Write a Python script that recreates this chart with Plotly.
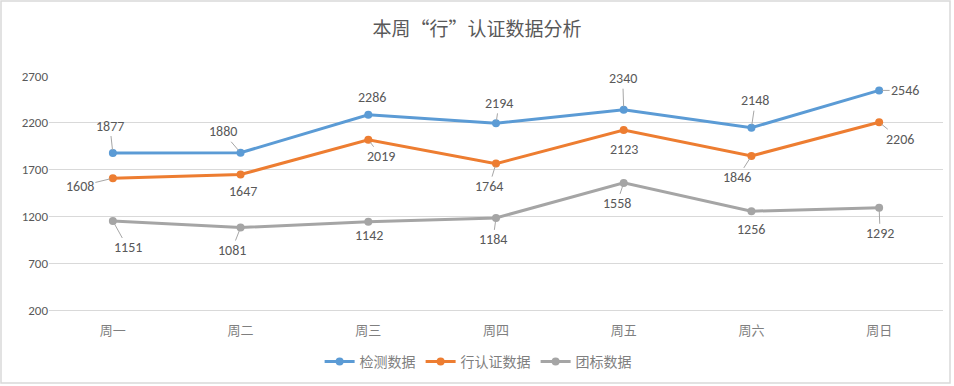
import plotly.graph_objects as go

categories = ["周一", "周二", "周三", "周四", "周五", "周六", "周日"]
jiance = [1877, 1880, 2286, 2194, 2340, 2148, 2546]
xing = [1608, 1647, 2019, 1764, 2123, 1846, 2206]
tuanbiao = [1151, 1081, 1142, 1184, 1558, 1256, 1292]
series_names = ["检测数据", "行认证数据", "团标数据"]
y_ticks = [200, 700, 1200, 1700, 2200, 2700]
title_text = "本周“行”认证数据分析"

colors = ["#5B9BD5", "#ED7D31", "#A5A5A5"]
FONT = "Calibri, Carlito, 'Noto Sans CJK SC', sans-serif"
CJK = "'Noto Sans CJK SC', sans-serif"
TXT = "#595959"

# label offsets (pixels) for each series/point
offsets = [
    [(-3, -27), (-18, -21), (4, -17), (3, -20), (-1, -31), (4, -27), (26, 0)],
    [(-33, 8), (2, 17), (13, 17), (-7, 23), (0, 19), (-14, 22), (21, 17)],
    [(15, 27), (-9, 23), (1, 14), (-3, 22), (-7, 21), (0, 18), (1, 26)],
]

fig = go.Figure()
all_series = [jiance, xing, tuanbiao]
for name, vals, c in zip(series_names, all_series, colors):
    fig.add_trace(go.Scatter(
        x=categories, y=vals, name=name, mode="lines+markers",
        line=dict(color=c, width=3),
        marker=dict(color=c, size=8),
    ))

annotations = []
for vals, offs in zip(all_series, offsets):
    for cat, v, (dx, dy) in zip(categories, vals, offs):
        long = (dx * dx + dy * dy) ** 0.5 > 20
        annotations.append(dict(
            x=cat, y=v, xref="x", yref="y",
            text=str(v), showarrow=True,
            ax=dx, ay=dy, axref="pixel", ayref="pixel",
            arrowhead=0, arrowwidth=1, arrowcolor="#A6A6A6" if long else "rgba(0,0,0,0)",
            standoff=3,
            font=dict(family=FONT, size=14, color=TXT),
        ))

L, R, T, B = 49, 11, 76, 76
W, H = 954, 386

fig.update_layout(
    width=W, height=H,
    margin=dict(l=L, r=R, t=T, b=B),
    paper_bgcolor="white", plot_bgcolor="white",
    title=dict(text=title_text, x=0.5, xanchor="center", y=0.925, yanchor="middle",
               font=dict(family=CJK, size=19, color=TXT)),
    xaxis=dict(type="category", range=[-0.5, 6.5], showgrid=False, showline=True,
               linecolor="#D9D9D9", linewidth=1, ticklabelstandoff=8, automargin=False,
               ticks="", tickfont=dict(family=CJK, size=13, color="#7F7F7F")),
    yaxis=dict(range=[200, 2700], tickvals=y_ticks, showgrid=True, gridcolor="#D9D9D9",
               gridwidth=1, zeroline=False, showline=False, ticks="", automargin=False,
               tickfont=dict(family=FONT, size=13, color=TXT)),
    legend=dict(orientation="h", x=0.48, xanchor="center", xref="paper",
                y=(H - 362) / H, yanchor="middle", yref="container",
                font=dict(family=CJK, size=14, color="#7F7F7F"), itemwidth=30),
    annotations=annotations,
    shapes=[dict(type="rect", xref="paper", yref="paper",
                 x0=-(L - 1) / (W - L - R), x1=1 + (R - 4) / (W - L - R),
                 y0=-(B - 3) / (H - T - B), y1=1 + (T - 1) / (H - T - B),
                 line=dict(color="#D9D9D9", width=1.5))],
    showlegend=True,
)

fig.write_html("out.html", config={"displayModeBar": False},
               post_script="document.body.style.margin='0';document.body.style.padding='0';")
